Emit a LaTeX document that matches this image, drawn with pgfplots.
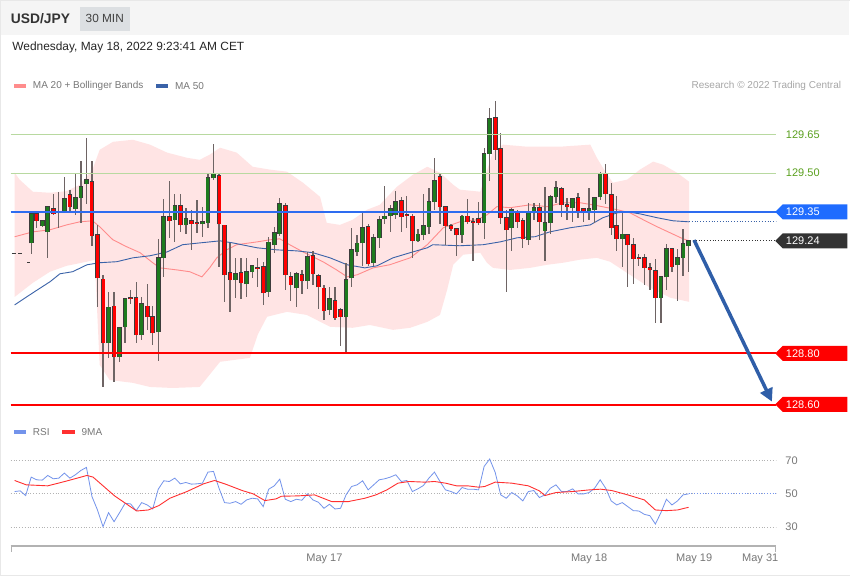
\documentclass[border=0pt]{standalone}
\usepackage{fontspec}
\setmainfont{Liberation Sans}
\usepackage{pgfplots}
\pgfplotsset{compat=1.18}
\usepackage{pgfplotstable}
\usetikzlibrary{arrows.meta}

\definecolor{cgreen}{HTML}{1E7B1E}
\definecolor{cred}{HTML}{FF0000}
\definecolor{wick}{HTML}{6E6464}
\definecolor{bodyline}{HTML}{3C3C3C}
\definecolor{bandfill}{HTML}{FFE4E4}
\definecolor{ma20}{HTML}{FF8C8C}
\definecolor{ma50}{HTML}{3A62A8}
\definecolor{lvlgreen}{HTML}{B8D9A0}
\definecolor{lvltext}{HTML}{5AA01E}
\definecolor{supblue}{HTML}{2E6CF0}
\definecolor{tagblue}{HTML}{1F6CFF}
\definecolor{tagdark}{HTML}{333333}
\definecolor{rsiblue}{HTML}{7393EB}
\definecolor{rsired}{HTML}{FF3030}
\definecolor{arrowblue}{HTML}{2F5EA8}
\definecolor{txtgray}{HTML}{777777}
\definecolor{hdr}{HTML}{F5F5F5}
\definecolor{minbox}{HTML}{DCDFE2}

\pgfplotsset{candle/.style={only marks, mark=*, mark size=0.01pt,
  mark options={draw opacity=0, fill opacity=0},
  error bars/.cd, y dir=plus, y explicit, error mark=none}}

% candle index i: 0 = May 18 00:00, 30-minute candles
\pgfplotstableread{
i O H L C
-101 129.229 129.350 129.187 129.342
-100 129.342 129.350 129.288 129.315
-99 129.296 129.319 129.292 129.315
-98 129.272 129.370 129.171 129.370
-97 129.362 129.420 129.338 129.342
-96 129.350 129.428 129.288 129.348
-95 129.350 129.486 129.346 129.401
-94 129.416 129.436 129.350 129.370
-93 129.362 129.502 129.338 129.405
-92 129.405 129.549 129.307 129.447
-91 129.459 129.638 129.381 129.475
-90 129.467 129.549 129.218 129.257
-89 129.261 129.299 128.980 129.093
-88 129.089 129.105 128.669 128.840
-87 128.840 129.039 128.782 128.980
-86 128.984 129.039 128.689 128.786
-85 128.786 128.903 128.767 128.899
-84 128.903 129.016 128.840 129.012
-83 129.016 129.047 128.992 129.012
-82 129.016 129.078 128.840 128.872
-81 128.872 129.019 128.852 128.992
-80 128.984 129.070 128.891 128.942
-79 128.942 128.984 128.833 128.879
-78 128.883 129.245 128.770 129.171
-77 129.171 129.401 129.097 129.331
-76 129.331 129.471 129.249 129.315
-75 129.319 129.420 129.233 129.373
-74 129.373 129.420 129.272 129.299
-73 129.299 129.366 129.264 129.323
-72 129.315 129.358 129.202 129.303
-71 129.307 129.397 129.268 129.305
-70 129.303 129.370 129.253 129.311
-69 129.307 129.502 129.288 129.482
-68 129.482 129.615 129.475 129.498
-67 129.490 129.502 129.136 129.303
-66 129.299 129.299 129.000 129.105
-65 129.113 129.229 128.961 129.086
-64 129.086 129.171 129.016 129.109
-63 129.113 129.171 129.012 129.074
-62 129.070 129.171 129.019 129.117
-61 129.117 129.144 129.093 129.140
-60 129.132 129.171 129.058 129.130
-59 129.136 129.156 128.988 129.035
-58 129.039 129.253 129.019 129.233
-57 129.222 129.292 129.191 129.268
-56 129.264 129.405 129.257 129.381
-55 129.373 129.385 129.047 129.105
-54 129.097 129.117 129.004 129.066
-53 129.054 129.117 128.980 129.109
-52 129.105 129.124 129.031 129.082
-51 129.082 129.194 129.051 129.175
-50 129.179 129.198 129.066 129.109
-49 129.101 129.109 128.973 129.058
-48 129.054 129.066 128.930 128.965
-47 128.969 129.058 128.949 129.012
-46 129.004 129.058 128.930 128.938
-45 128.969 128.977 128.829 128.942
-44 128.942 129.152 128.802 129.086
-43 129.093 129.288 129.058 129.202
-42 129.194 129.261 129.179 129.229
-41 129.229 129.350 129.140 129.288
-40 129.292 129.303 129.140 129.148
-39 129.152 129.264 129.140 129.249
-38 129.249 129.334 129.210 129.319
-37 129.323 129.451 129.303 129.334
-36 129.334 129.377 129.272 129.362
-35 129.338 129.432 129.323 129.389
-34 129.393 129.408 129.272 129.331
-33 129.338 129.412 129.288 129.336
-32 129.334 129.342 129.171 129.237
-31 129.237 129.284 129.233 129.264
-30 129.261 129.420 129.241 129.296
-29 129.292 129.443 129.264 129.389
-28 129.389 129.560 129.358 129.471
-27 129.486 129.498 129.303 129.370
-26 129.370 129.370 129.222 129.296
-25 129.296 129.303 129.276 129.284
-24 129.284 129.288 129.179 129.261
-23 129.261 129.338 129.229 129.334
-22 129.334 129.401 129.303 129.311
-21 129.311 129.327 129.159 129.309
-20 129.323 129.389 129.299 129.307
-19 129.307 129.599 129.245 129.576
-18 129.576 129.755 129.471 129.712
-17 129.716 129.782 129.552 129.591
-16 129.595 129.658 129.303 129.327
-15 129.327 129.358 129.039 129.280
-14 129.288 129.366 129.198 129.358
-13 129.346 129.358 129.288 129.311
-12 129.315 129.327 129.210 129.245
-11 129.241 129.385 129.222 129.350
-10 129.354 129.385 129.319 129.366
-9 129.366 129.385 129.241 129.311
-8 129.276 129.447 129.159 129.307
-7 129.307 129.416 129.264 129.408
-6 129.408 129.471 129.385 129.443
-5 129.440 129.447 129.331 129.377
-4 129.377 129.405 129.319 129.370
-3 129.366 129.405 129.311 129.401
-2 129.405 129.424 129.327 129.350
-1 129.362 129.366 129.311 129.346
0 129.350 129.443 129.319 129.362
1 129.358 129.408 129.307 129.405
2 129.408 129.506 129.397 129.498
3 129.498 129.537 129.381 129.420
4 129.416 129.463 129.261 129.288
5 129.296 129.412 129.198 129.245
6 129.245 129.346 129.136 129.264
7 129.261 129.264 129.058 129.222
8 129.222 129.249 129.070 129.167
9 129.171 129.187 129.140 129.167
10 129.171 129.187 129.066 129.132
11 129.132 129.152 129.047 129.124
12 129.121 129.167 128.918 129.016
13 129.016 129.101 128.918 129.097
14 129.097 129.226 129.047 129.206
15 129.206 129.210 129.117 129.136
16 129.144 129.206 129.004 129.171
17 129.171 129.284 129.101 129.226
18 129.218 129.237 129.117 129.237
}\candles

\pgfplotstableread{
i v
-104 51.2
-103 51.6
-102 48.8
-101 59.8
-100 58.2
-99 58.0
-98 60.8
-97 58.8
-96 59.2
-95 62.2
-94 59.2
-93 61.2
-92 63.8
-91 65.6
-90 48.2
-89 40.2
-88 30.2
-87 38.6
-86 33.2
-85 38.6
-84 44.2
-83 43.8
-82 39.8
-81 44.6
-80 43.2
-79 40.8
-78 52.6
-77 57.6
-76 57.2
-75 59.2
-74 55.8
-73 56.6
-72 55.6
-71 55.8
-70 56.2
-69 62.8
-68 63.2
-67 53.2
-66 44.6
-65 44.2
-64 45.2
-63 43.6
-62 46.2
-61 47.2
-60 46.8
-59 42.2
-58 52.6
-57 54.6
-56 58.6
-55 46.6
-54 45.2
-53 46.6
-52 46.0
-51 49.8
-50 46.2
-49 44.8
-48 41.2
-47 43.6
-46 40.8
-45 41.2
-44 49.2
-43 54.2
-42 55.2
-41 57.6
-40 52.2
-39 55.2
-38 58.2
-37 58.8
-36 59.8
-35 61.2
-34 57.2
-33 57.8
-32 51.2
-31 52.8
-30 54.8
-29 59.2
-28 62.8
-27 57.2
-26 52.2
-25 51.2
-24 49.8
-23 53.6
-22 52.6
-21 52.6
-20 52.2
-19 66.2
-18 70.6
-17 62.6
-16 49.2
-15 47.2
-14 50.6
-13 48.6
-12 45.6
-11 51.2
-10 51.8
-9 47.6
-8 49.2
-7 53.2
-6 55.2
-5 51.2
-4 51.2
-3 52.8
-2 49.8
-1 49.8
0 50.6
1 53.2
2 58.2
3 53.2
4 45.6
5 43.2
6 44.6
7 42.2
8 39.8
9 39.6
10 37.6
11 36.8
12 31.8
13 38.6
14 46.6
15 43.2
16 45.6
17 49.2
18 49.8
}\rsi

\pgfplotstableread{
i v
-104.0 57.8
-101.9 55.2
-98.0 54.6
-94.9 57.2
-90.9 60.8
-89.8 59.8
-85.9 48.6
-81.9 39.6
-79.8 40.2
-77.9 42.8
-75.9 47.2
-72.8 51.2
-69.8 55.8
-67.8 57.8
-65.8 55.6
-62.8 51.8
-60.8 49.8
-58.7 45.8
-56.7 46.8
-55.7 48.4
-52.7 48.6
-49.7 49.2
-46.6 45.2
-43.6 45.2
-40.6 47.2
-38.6 49.2
-36.6 52.2
-34.6 56.2
-32.6 57.2
-29.7 56.8
-28.0 57.2
-26.0 56.2
-24.0 54.6
-22.0 54.6
-20.0 53.8
-18.9 54.2
-17.0 56.8
-14.0 56.2
-11.0 54.6
-9.0 51.6
-8.0 48.8
-6.0 50.6
-3.0 51.2
0.1 52.2
2.1 52.6
4.1 51.8
7.0 49.2
10.0 46.2
12.0 40.2
14.0 39.8
16.0 40.2
18.0 41.8
}\rsima

\pgfplotstableread{
i v
-104.0 129.253
-100.7 129.272
-97.6 129.280
-94.6 129.299
-92.2 129.311
-89.9 129.315
-88.6 129.292
-86.2 129.241
-83.7 129.214
-81.3 129.191
-79.0 129.152
-77.7 129.132
-74.6 129.124
-72.3 129.117
-70.1 129.097
-68.7 129.132
-67.4 129.171
-65.6 129.202
-63.8 129.222
-60.1 129.233
-57.8 129.241
-56.0 129.245
-54.2 129.222
-51.8 129.194
-48.2 129.156
-45.7 129.124
-43.8 129.097
-42.0 129.105
-39.1 129.132
-36.1 129.144
-32.4 129.171
-29.3 129.222
-26.4 129.288
-23.4 129.311
-20.3 129.319
-18.5 129.338
-16.7 129.370
-14.3 129.366
-10.7 129.377
-7.6 129.370
-4.7 129.385
-1.6 129.385
0.7 129.377
3.3 129.366
5.1 129.358
7.4 129.346
9.8 129.319
12.3 129.292
14.7 129.268
17.0 129.245
18.1 129.237
}\maxx

\pgfplotstableread{
i v
-104.0 128.988
-100.7 129.035
-97.6 129.078
-95.8 129.109
-93.5 129.117
-90.9 129.144
-88.6 129.152
-85.5 129.156
-82.6 129.171
-79.5 129.179
-76.4 129.194
-73.6 129.222
-70.5 129.229
-66.8 129.237
-64.5 129.229
-60.1 129.210
-56.5 129.202
-52.9 129.198
-50.0 129.191
-46.9 129.171
-43.8 129.144
-40.6 129.132
-38.4 129.140
-35.5 129.171
-32.4 129.191
-29.3 129.210
-28.3 129.222
-23.4 129.218
-19.2 129.222
-16.1 129.233
-13.0 129.249
-9.8 129.253
-7.1 129.272
-3.4 129.288
0.2 129.299
2.5 129.327
5.1 129.346
6.9 129.350
9.2 129.342
12.3 129.327
15.2 129.315
18.1 129.311
}\maf

\begin{document}
\begin{tikzpicture}
\begin{scope}[x=1pt, y=-1pt, yshift=576pt]
\draw[draw=gray!18, fill=white] (0.5,0.5) rectangle (849.5,575.5);
\fill[hdr] (1,1) rectangle (849,35);
\fill[minbox] (80,7) rectangle (130,31);
\node[anchor=west, inner sep=0pt, text=black!80, font=\fontsize{13.8}{16}\selectfont\bfseries] at (11,19) {USD/JPY};
\node[inner sep=0pt, text=black!75, font=\fontsize{11.8}{14}\selectfont] at (105,19) {30 MIN};
\node[anchor=west, inner sep=0pt, text=black!85, font=\fontsize{11.9}{14}\selectfont] at (12.5,48) {Wednesday, May 18, 2022 9:23:41 AM CET};
\fill[ma20] (14,84.3) rectangle (26,88.3);
\node[anchor=west, inner sep=0pt, text=txtgray, font=\fontsize{10}{12}\selectfont] at (33,86.3) {MA 20 + Bollinger Bands};
\fill[ma50] (156,84.3) rectangle (168,88.3);
\node[anchor=west, inner sep=0pt, text=txtgray, font=\fontsize{10}{12}\selectfont] at (175,86.3) {MA 50};
\node[anchor=east, inner sep=0pt, text=black!35, font=\fontsize{10}{12}\selectfont] at (841,86.3) {Research © 2022 Trading Central};
\end{scope}

\begin{axis}[at={(11pt,161pt)}, anchor=south west, scale only axis,
  width=765pt, height=320pt,
  xmin=-104.71, xmax=33.88, ymin=128.560, ymax=129.805,
  hide axis]
\addplot[fill=bandfill, draw=none] coordinates {
(-104.0,129.502) (-103.1,129.475) (-100.7,129.428) (-97.6,129.424) (-94.6,129.430) (-92.2,129.455) (-89.9,129.514) (-88.6,129.591) (-86.2,129.622) (-82.6,129.630) (-79.5,129.611) (-76.4,129.580) (-72.8,129.560) (-70.5,129.552) (-68.7,129.572) (-66.8,129.599) (-63.8,129.580) (-60.9,129.525) (-57.8,129.514) (-54.7,129.506) (-51.8,129.463) (-48.7,129.408) (-47.5,129.307) (-45.1,129.299) (-42.8,129.319) (-40.2,129.358) (-37.9,129.377) (-34.8,129.447) (-31.9,129.494) (-29.3,129.525) (-27.0,129.502) (-24.6,129.455) (-23.4,129.436) (-19.7,129.428) (-17.4,129.584) (-15.6,129.611) (-11.2,129.603) (-5.3,129.603) (0.2,129.611) (1.4,129.560) (2.5,129.521) (4.3,129.463) (6.9,129.475) (9.2,129.514) (11.6,129.545) (13.4,129.533) (15.9,129.502) (18.1,129.467)
(18.1,129.000) (14.7,129.016) (11.1,129.054) (7.4,129.105) (3.8,129.156) (1.4,129.171) (-1.6,129.164) (-4.7,129.152) (-7.6,129.144) (-10.7,129.132) (-14.3,129.124) (-17.4,129.132) (-18.5,129.152) (-19.7,129.191) (-22.8,129.183) (-24.6,129.144) (-25.7,129.047) (-27.0,128.949) (-29.3,128.922) (-32.4,128.899) (-35.5,128.891) (-39.7,128.910) (-42.8,128.899) (-46.9,128.903) (-51.1,128.949) (-54.7,128.961) (-58.3,128.942) (-60.0,128.872) (-61.4,128.782) (-66.8,128.767) (-70.5,128.669) (-75.4,128.665) (-79.5,128.669) (-82.6,128.685) (-86.8,128.696) (-88.6,128.755) (-88.9,128.891) (-89.5,129.164) (-90.9,129.156) (-94.6,129.140) (-97.6,129.117) (-100.7,129.074) (-104.0,129.019)
} -- cycle;
\addplot[ma20, line width=0.9pt] table[x=i, y=v] {\maxx};
\addplot[ma50, line width=0.9pt] table[x=i, y=v] {\maf};
\addplot[bodyline, line width=1pt] coordinates {(-104.5,129.187) (-103.8,129.187)};
\addplot[bodyline, line width=1pt] coordinates {(-103.3,129.187) (-102.7,129.187)};
\addplot[bodyline, line width=1pt] coordinates {(-101.7,129.152) (-101.2,129.152)};
% wicks
\addplot[candle, error bar style={wick, line width=1.3pt}]
  table[x=i, y=L, y error expr=\thisrow{H}-\thisrow{L}] {\candles};
% body outlines
\addplot[candle, error bar style={bodyline, line width=4.6pt}]
  table[x=i, y expr={min(\thisrow{O},\thisrow{C})-0.0015}, y error expr={abs(\thisrow{C}-\thisrow{O})+0.003}] {\candles};
% green bodies
\addplot[restrict expr to domain={\thisrow{C}-\thisrow{O}}{0.0001:2}, candle,
  error bar style={cgreen, line width=3.0pt}]
  table[x=i, y=O, y error expr=\thisrow{C}-\thisrow{O}] {\candles};
% red bodies
\addplot[restrict expr to domain={\thisrow{O}-\thisrow{C}}{0.0001:2}, candle,
  error bar style={cred, line width=3.0pt}]
  table[x=i, y=C, y error expr=\thisrow{O}-\thisrow{C}] {\candles};
\addplot[lvlgreen, line width=1.4pt] coordinates {(-104.71,129.65) (33.88,129.65)};
\addplot[lvlgreen, line width=1.4pt] coordinates {(-104.71,129.50) (33.88,129.50)};
\addplot[supblue, line width=1.5pt] coordinates {(-104.71,129.35) (33.88,129.35)};
\addplot[cred, line width=2pt] coordinates {(-104.71,128.80) (33.88,128.80)};
\addplot[cred, line width=2pt] coordinates {(-104.71,128.60) (33.88,128.60)};
\addplot[tagdark, dotted, line width=0.8pt] coordinates {(18.8,129.24) (33.88,129.24)};
\addplot[ma50, dotted, line width=0.8pt] coordinates {(18.1,129.311) (33.88,129.311)};
\addplot[arrowblue, line width=3.5pt, -{Triangle[length=13pt,width=13pt]}] coordinates {(19.0,129.24) (33.1,128.612)};
\end{axis}

\begin{axis}[at={(11pt,32.25pt)}, anchor=south west, scale only axis,
  width=765pt, height=100.5pt,
  xmin=-104.71, xmax=33.88, ymin=20, ymax=80, hide axis]
\addplot[black!30, dotted, line width=0.8pt] coordinates {(-104.71,70) (33.88,70)};
\addplot[black!30, dotted, line width=0.8pt] coordinates {(-104.71,50) (33.88,50)};
\addplot[black!30, dotted, line width=0.8pt] coordinates {(-104.71,30) (33.88,30)};
\addplot[rsiblue, line width=0.8pt] table[x=i, y=v] {\rsi};
\addplot[rsiblue, dotted, line width=0.8pt] coordinates {(18,49.8) (33.88,49.8)};
\addplot[rsired, line width=0.9pt] table[x=i, y=v] {\rsima};
\end{axis}

\begin{scope}[x=1pt, y=-1pt, yshift=576pt]
\node[anchor=west, inner sep=0pt, text=lvltext, font=\fontsize{11}{13}\selectfont] at (785.5,135) {129.65};
\node[anchor=west, inner sep=0pt, text=lvltext, font=\fontsize{11}{13}\selectfont] at (785.5,173) {129.50};
\fill[tagblue] (775,212) -- (782.5,204.5) -- (847,204.5) -- (847,219.5) -- (782.5,219.5) -- cycle;
\node[anchor=west, inner sep=0pt, text=white, font=\fontsize{11}{13}\selectfont] at (785.5,212) {129.35};
\fill[tagdark] (775,241) -- (782.5,233.5) -- (847,233.5) -- (847,248.5) -- (782.5,248.5) -- cycle;
\node[anchor=west, inner sep=0pt, text=white, font=\fontsize{11}{13}\selectfont] at (785.5,241) {129.24};
\fill[cred] (775,353.5) -- (782.5,346) -- (847,346) -- (847,361) -- (782.5,361) -- cycle;
\node[anchor=west, inner sep=0pt, text=white, font=\fontsize{11}{13}\selectfont] at (785.5,353.5) {128.80};
\fill[cred] (775,404.5) -- (782.5,397) -- (847,397) -- (847,412) -- (782.5,412) -- cycle;
\node[anchor=west, inner sep=0pt, text=white, font=\fontsize{11}{13}\selectfont] at (785.5,404.5) {128.60};
\fill[rsiblue] (14,429.7) rectangle (26,433.7);
\node[anchor=west, inner sep=0pt, text=txtgray, font=\fontsize{10}{12}\selectfont] at (33,431.7) {RSI};
\fill[rsired] (62.7,429.7) rectangle (75,433.7);
\node[anchor=west, inner sep=0pt, text=txtgray, font=\fontsize{10}{12}\selectfont] at (81.7,431.7) {9MA};
\node[anchor=west, inner sep=0pt, text=txtgray, font=\fontsize{11}{13}\selectfont] at (785,460.3) {70};
\node[anchor=west, inner sep=0pt, text=txtgray, font=\fontsize{11}{13}\selectfont] at (785,493.7) {50};
\node[anchor=west, inner sep=0pt, text=txtgray, font=\fontsize{11}{13}\selectfont] at (785,527) {30};
\draw[black!30, line width=2pt] (11,546) -- (776,546);
\draw[black!30, line width=1.5pt] (11.75,546) -- (11.75,551.5);
\draw[black!30, line width=1.5pt] (775.25,546) -- (775.25,551.5);
\node[inner sep=0pt, text=txtgray, font=\fontsize{11}{13}\selectfont] at (324.5,558.5) {May 17};
\node[inner sep=0pt, text=txtgray, font=\fontsize{11}{13}\selectfont] at (589,558.5) {May 18};
\node[inner sep=0pt, text=txtgray, font=\fontsize{11}{13}\selectfont] at (694,558.5) {May 19};
\node[inner sep=0pt, text=txtgray, font=\fontsize{11}{13}\selectfont] at (760,558.5) {May 31};
\end{scope}
\end{tikzpicture}
\end{document}
